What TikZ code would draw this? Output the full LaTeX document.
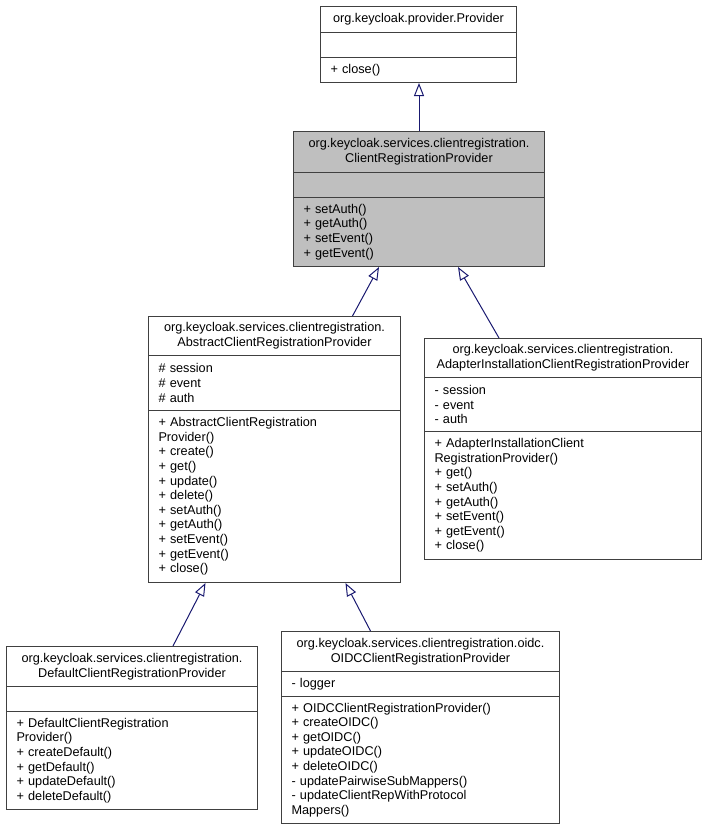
\documentclass[tikz,border=0pt]{standalone}
\usepackage{fontspec}
\setmainfont{Liberation Sans}
\usetikzlibrary{arrows.meta}
\definecolor{edgeblue}{HTML}{191970}
\definecolor{boxline}{HTML}{404040}
\definecolor{hilite}{HTML}{BFBFBF}
\begin{document}
\begin{tikzpicture}[x=1pt,y=-1pt,
  sec/.style={draw=boxline, line width=1pt, rectangle, anchor=north west, inner sep=0pt,
    font=\fontsize{12.7}{14.6}\selectfont},
  ttl/.style={sec, align=center},
  mem/.style={sec, align=left, inner xsep=10pt},
  inh/.style={draw=edgeblue, line width=1pt, -{Triangle[open, length=13pt, width=10pt, fill=white]}}
]
\useasboundingbox (0,0) rectangle (707,831);

% Provider
\node[ttl, minimum width=196pt, minimum height=26pt] (provT) at (320,6) {org.keycloak.provider.Provider};
\node[sec, minimum width=196pt, minimum height=25pt] (provA) at (320,32) {};
\node[mem, text width=176pt, minimum height=25pt] (provM) at (320,57) {+ close()};

% ClientRegistrationProvider
\node[ttl, fill=hilite, minimum width=251pt, minimum height=41pt] (crpT) at (293,131) {org.keycloak.services.clientregistration.\\ClientRegistrationProvider};
\node[sec, fill=hilite, minimum width=251pt, minimum height=25pt] (crpA) at (293,172) {};
\node[mem, fill=hilite, text width=231pt, minimum height=69pt] (crpM) at (293,197) {+ setAuth()\\+ getAuth()\\+ setEvent()\\+ getEvent()};

% AbstractClientRegistrationProvider
\node[ttl, minimum width=252pt, minimum height=39pt] (acrpT) at (148,316) {org.keycloak.services.clientregistration.\\AbstractClientRegistrationProvider};
\node[mem, text width=232pt, minimum height=55pt] (acrpA) at (148,355) {\# session\\\# event\\\# auth};
\node[mem, text width=232pt, minimum height=172pt] (acrpM) at (148,410) {+ AbstractClientRegistration\\Provider()\\+ create()\\+ get()\\+ update()\\+ delete()\\+ setAuth()\\+ getAuth()\\+ setEvent()\\+ getEvent()\\+ close()};

% AdapterInstallationClientRegistrationProvider
\node[ttl, minimum width=277pt, minimum height=39pt] (aicrpT) at (424,338) {org.keycloak.services.clientregistration.\\AdapterInstallationClientRegistrationProvider};
\node[mem, text width=257pt, minimum height=54pt] (aicrpA) at (424,377) {- session\\- event\\- auth};
\node[mem, text width=257pt, minimum height=128pt] (aicrpM) at (424,431) {+ AdapterInstallationClient\\RegistrationProvider()\\+ get()\\+ setAuth()\\+ getAuth()\\+ setEvent()\\+ getEvent()\\+ close()};

% DefaultClientRegistrationProvider
\node[ttl, minimum width=251pt, minimum height=40pt] (dcrpT) at (6,646) {org.keycloak.services.clientregistration.\\DefaultClientRegistrationProvider};
\node[sec, minimum width=251pt, minimum height=25pt] (dcrpA) at (6,686) {};
\node[mem, text width=231pt, minimum height=98pt] (dcrpM) at (6,711) {+ DefaultClientRegistration\\Provider()\\+ createDefault()\\+ getDefault()\\+ updateDefault()\\+ deleteDefault()};

% OIDCClientRegistrationProvider
\node[ttl, minimum width=278pt, minimum height=40pt] (oidcT) at (281,631) {org.keycloak.services.clientregistration.oidc.\\OIDCClientRegistrationProvider};
\node[mem, text width=258pt, minimum height=25pt] (oidcA) at (281,671) {- logger};
\node[mem, text width=258pt, minimum height=127pt] (oidcM) at (281,696) {+ OIDCClientRegistrationProvider()\\+ createOIDC()\\+ getOIDC()\\+ updateOIDC()\\+ deleteOIDC()\\- updatePairwiseSubMappers()\\- updateClientRepWithProtocol\\Mappers()};

% inheritance edges
\draw[inh] (crpT.north) -- (crpT.north |- provM.south);
\draw[inh] ([xshift=78pt]acrpT.north) -- ([xshift=-40pt]crpM.south);
\draw[inh] ([xshift=-64pt]aicrpT.north) -- ([xshift=39pt]crpM.south);
\draw[inh] ([xshift=41pt]dcrpT.north) -- ([xshift=-69pt]acrpM.south);
\draw[inh] ([xshift=-50pt]oidcT.north) -- ([xshift=71pt]acrpM.south);
\end{tikzpicture}
\end{document}
